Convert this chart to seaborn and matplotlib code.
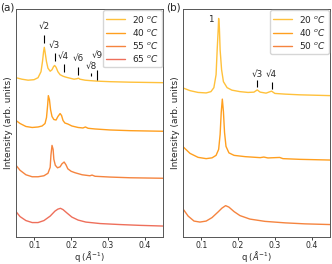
import numpy as np
import pandas as pd
import matplotlib
matplotlib.use("Agg")
import matplotlib.pyplot as plt
import seaborn as sns

# ---- panel (a): curves (q in 1/A, stacked intensity) ----
qa_20 = [0.050, 0.066, 0.083, 0.099, 0.110, 0.118, 0.122, 0.125, 0.127, 0.129, 0.133, 0.137,
         0.143, 0.148, 0.152, 0.155, 0.159, 0.164, 0.170, 0.178, 0.186, 0.197, 0.208, 0.216,
         0.220, 0.224, 0.238, 0.254, 0.273, 0.306, 0.360, 0.450]
ia_20 = [160, 158.5, 157.5, 158, 160, 166, 176, 186, 190.5, 186, 176, 169.5,
         166.5, 168, 171, 172.3, 170.5, 166, 163, 161.5, 160.5, 159.5, 158.5, 159,
         159.5, 158.5, 157.5, 157, 156.5, 156, 155.5, 155]

qa_40 = [0.050, 0.061, 0.077, 0.094, 0.110, 0.121, 0.129, 0.133, 0.136, 0.138, 0.141, 0.144,
         0.148, 0.153, 0.159, 0.164, 0.170, 0.174, 0.178, 0.183, 0.191, 0.202, 0.219, 0.232,
         0.239, 0.246, 0.265, 0.306, 0.360, 0.450]
ia_40 = [117, 114, 111, 110, 110.5, 111.5, 114, 120, 132, 142, 138, 128,
         121, 118, 117.5, 121, 124, 122, 117, 114.5, 113.5, 111.5, 110, 109.5,
         110.5, 109.2, 108.5, 107.5, 106.8, 106.2]

qa_55 = [0.050, 0.061, 0.077, 0.094, 0.110, 0.126, 0.137, 0.143, 0.145, 0.148, 0.151, 0.153,
         0.157, 0.163, 0.170, 0.175, 0.181, 0.186, 0.191, 0.200, 0.211, 0.230, 0.251, 0.257,
         0.265, 0.306, 0.360, 0.450]
ia_55 = [72, 67, 62.5, 60.5, 60.5, 61.5, 64, 70, 82, 92, 88, 78,
         72, 69.5, 70.5, 73.5, 75.3, 72.5, 68.5, 66, 64.5, 62.5, 61.5, 62.2,
         61, 60.2, 59.5, 59]

qa_65 = [0.050, 0.061, 0.077, 0.094, 0.110, 0.126, 0.143, 0.156, 0.164, 0.171, 0.178, 0.189,
         0.202, 0.219, 0.240, 0.279, 0.333, 0.387, 0.450]
ia_65 = [25.5, 20.5, 16.5, 14.5, 14.5, 16.5, 21, 26, 28, 28.8, 27.5, 24,
         20, 17, 15, 13.5, 12.5, 11.7, 11]

# ---- panel (b) ----
qb_20 = [0.050, 0.069, 0.091, 0.113, 0.126, 0.134, 0.140, 0.143, 0.146, 0.147, 0.149, 0.151,
         0.155, 0.160, 0.170, 0.183, 0.205, 0.227, 0.243, 0.252, 0.260, 0.276, 0.291, 0.300,
         0.328, 0.368, 0.450]
ib_20 = [149.7, 147, 145.2, 144.7, 146, 150, 163, 188, 210, 219.5, 210, 188,
         168, 156, 150, 147.5, 146, 145.2, 145.5, 147.7, 145.5, 144.5, 146.5, 144.2,
         143.5, 142.8, 142]

qb_40 = [0.050, 0.069, 0.091, 0.113, 0.129, 0.140, 0.147, 0.151, 0.154, 0.157, 0.160, 0.163,
         0.167, 0.175, 0.189, 0.219, 0.260, 0.270, 0.281, 0.313, 0.322, 0.368, 0.450]
ib_40 = [90.7, 84, 80, 78.7, 79.5, 82, 88, 103, 125, 138.5, 126, 105,
         91, 84.5, 82, 80.7, 79.7, 80.3, 79.4, 79.9, 78.7, 78, 77.3]

qb_50 = [0.050, 0.064, 0.080, 0.096, 0.113, 0.129, 0.145, 0.156, 0.166, 0.175, 0.189, 0.205,
         0.232, 0.273, 0.328, 0.382, 0.450]
ib_50 = [28.2, 21, 16, 15, 16, 19.5, 25, 29, 31.5, 30, 25.5, 21.5,
         18, 15.7, 14.2, 13.2, 12.5]

labels_a = ['20', '40', '55', '65']
labels_b = ['20', '40', '50']
colors_a = ['#ffc13b', '#ff9f1f', '#f5843f', '#ee6f5b']
colors_b = ['#ffc13b', '#ff9f1f', '#f5843f']

# peak markers: name, q, tick bottom, tick top, label y
marks_a = [('√2', 0.127, 195, 203, 211),
           ('√3', 0.155, 176.3, 185, 192.3),
           ('√4', 0.180, 166, 174, 181.3),
           ('√6', 0.220, 163, 171, 179),
           ('√8', 0.254, 161.3, 165, 171.3),
           ('√9', 0.270, 158, 168, 182.3)]
marks_b = [('√3', 0.252, 150.7, 158, 163),
           ('√4', 0.291, 148.7, 156, 163)]

sns.set_style('ticks')
plt.rcParams['font.family'] = ['DejaVu Sans']

fig = plt.figure(figsize=(3.32, 2.64), dpi=100)
ax_a = fig.add_axes([16/332, 27/264, 147/332, 228/264])
ax_b = fig.add_axes([183/332, 27/264, 147/332, 228/264])

curves_a = [(qa_20, ia_20), (qa_40, ia_40), (qa_55, ia_55), (qa_65, ia_65)]
curves_b = [(qb_20, ib_20), (qb_40, ib_40), (qb_50, ib_50)]

for ax, curves, labs, cols in [(ax_a, curves_a, labels_a, colors_a),
                               (ax_b, curves_b, labels_b, colors_b)]:
    for (q, i), lab, c in zip(curves, labs, cols):
        df = pd.DataFrame({'q': q, 'I': i})
        sns.lineplot(data=df, x='q', y='I', ax=ax, color=c, lw=1.0,
                     label=lab + r' $^o C$')
    ax.set_xlim(0.05, 0.45)
    ax.set_ylim(0, 229)
    ax.set_yticks([])
    ax.set_xticks([0.1, 0.2, 0.3, 0.4])
    ax.tick_params(axis='x', labelsize=5.6, length=2.0, pad=1.0, width=0.6)
    ax.set_xlabel(r'q ($\AA^{-1}$)', fontsize=6.0, labelpad=-0.5)
    ax.set_ylabel('Intensity (arb. units)', fontsize=6.5, labelpad=2)
    for s in ax.spines.values():
        s.set_linewidth(0.7)
        s.set_color('#555555')
    ax.legend(loc='upper right', fontsize=6.5, frameon=True, handlelength=2.0,
              handletextpad=0.8, labelspacing=0.25, borderaxespad=0.15,
              borderpad=0.35, fancybox=True, framealpha=0.8, edgecolor='#cccccc')

for ax, marks in [(ax_a, marks_a), (ax_b, marks_b)]:
    for name, q, lo, hi, ly in marks:
        ax.vlines(q, lo, hi, color='black', lw=0.8)
        ax.text(q, ly, name, ha='center', va='center', fontsize=6.3)

ax_b.text(0.125, 218, '1', ha='center', va='center', fontsize=6.3)

fig.text(0, 1 - 8/264, '(a)', ha='left', va='center', fontsize=7.5)
fig.text(166/332, 1 - 8/264, '(b)', ha='left', va='center', fontsize=7.5)

fig.savefig('out.png', dpi=100)
